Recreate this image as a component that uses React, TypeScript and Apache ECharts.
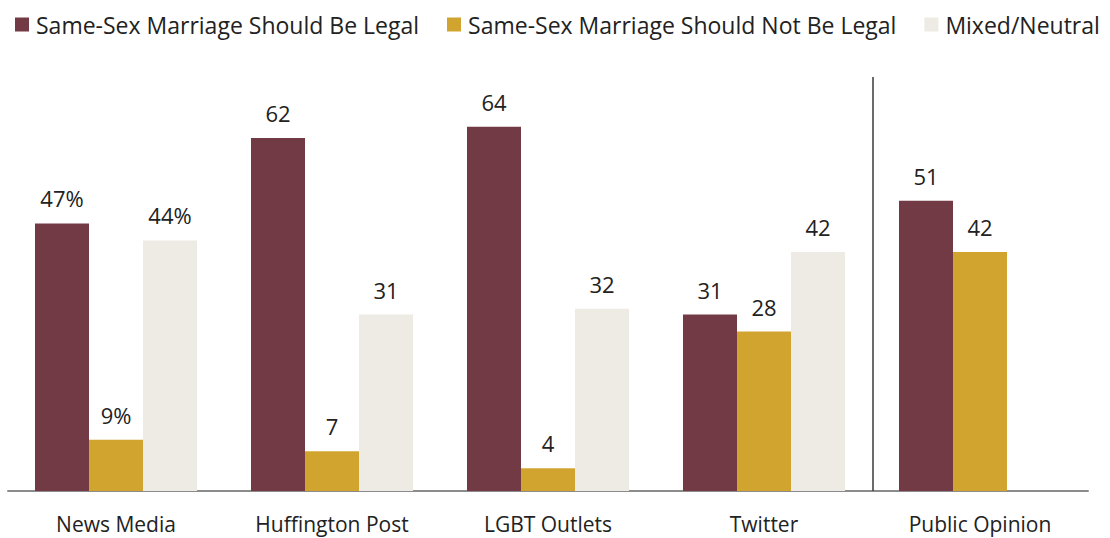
import React, { useEffect, useRef } from "react";
import * as echarts from "echarts";

const categories = ["News Media", "Huffington Post", "LGBT Outlets", "Twitter", "Public Opinion"];
const legalValues = [47, 62, 64, 31, 51];
const notLegalValues = [9, 7, 4, 28, 42];
const mixedValues: (number | null)[] = [44, 31, 32, 42, null];
const seriesNames = [
  "Same-Sex Marriage Should Be Legal",
  "Same-Sex Marriage Should Not Be Legal",
  "Mixed/Neutral",
];
const colors = ["#723A44", "#D1A430", "#EEEBE5"];

const FONT = "'Open Sans', 'Noto Sans', sans-serif";
const TEXT = "#222222";

export default function App() {
  const ref = useRef<HTMLDivElement>(null);
  useEffect(() => {
    if (!ref.current) return;
    const chart = echarts.init(ref.current, undefined, { renderer: "svg" });
    const label = {
      show: true,
      position: "top" as const,
      distance: 14,
      fontSize: 22,
      fontFamily: FONT,
      color: TEXT,
      formatter: (p: any) =>
        p.value == null ? "" : p.dataIndex === 0 ? `${p.value}%` : `${p.value}`,
    };
    const mk = (name: string, data: (number | null)[], color: string) => ({
      name,
      type: "bar" as const,
      data,
      itemStyle: { color },
      barGap: "0%",
      barCategoryGap: "25%",
      label,
    });
    chart.setOption({
      animation: false,
      textStyle: { fontFamily: FONT },
      legend: {
        left: 10,
        top: 8,
        itemWidth: 14,
        itemHeight: 14,
        itemGap: 28,
        icon: "rect",
        textStyle: { fontSize: 23, color: TEXT, fontFamily: FONT, padding: [0, 0, 0, 2] },
        data: seriesNames,
      },
      grid: { left: 8, right: 22, top: 64, bottom: 47, containLabel: false },
      xAxis: {
        type: "category",
        data: categories,
        axisTick: { show: false },
        axisLine: { lineStyle: { color: "#8C8C8C", width: 2 } },
        axisLabel: { fontSize: 21, color: TEXT, margin: 22, fontFamily: FONT },
      },
      yAxis: {
        type: "value",
        min: 0,
        max: 75,
        show: false,
        splitLine: { show: false },
      },
      graphic: [
        {
          type: "line",
          shape: { x1: 873, y1: 77, x2: 873, y2: 491 },
          style: { stroke: "#3A3A3A", lineWidth: 1.5 },
          z: 10,
        },
      ],
      series: [
        mk(seriesNames[0], legalValues, colors[0]),
        mk(seriesNames[1], notLegalValues, colors[1]),
        mk(seriesNames[2], mixedValues, colors[2]),
      ],
    });
    return () => chart.dispose();
  }, []);
  return <div ref={ref} style={{ width: 1110, height: 538, position: "absolute", left: 0, top: 0 }} />;
}
